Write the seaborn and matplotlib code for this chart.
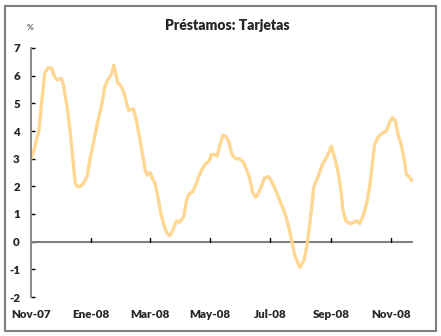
import matplotlib
matplotlib.use("Agg")
import matplotlib.pyplot as plt
import seaborn as sns
import pandas as pd
from matplotlib.patches import Rectangle

# ---- data ----
start_date = "2007-11-01"
days_since_start = [0, 3, 6, 8, 11, 14, 17, 21, 24, 27, 31, 33, 35, 37, 40, 43, 45, 47, 50, 53,
                    57, 60, 63, 67, 72, 75, 78, 81, 83, 84, 86, 88, 92, 95, 98, 99, 104, 107, 110, 113,
                    116, 118, 121, 123, 126, 129, 132, 135, 138, 141, 144, 146, 148, 151, 155, 158, 160, 164, 168, 172,
                    175, 178, 181, 183, 186, 189, 192, 195, 198, 201, 204, 208, 212, 216, 219, 222, 225, 228, 231, 234,
                    237, 241, 244, 248, 252, 256, 259, 262, 265, 268, 272, 273, 277, 280, 283, 285, 287, 291, 296, 301,
                    305, 309, 312, 315, 317, 320, 324, 328, 331, 334, 338, 341, 344, 347, 349, 352, 356, 361, 364, 367,
                    370, 373, 376, 380, 381, 384, 387]
values = [3.0, 3.3, 3.75, 4.0, 5.1, 6.1, 6.28, 6.27, 5.95, 5.85, 5.9, 5.65, 5.2, 4.8, 3.9, 2.8, 2.1, 2.0, 2.0, 2.1,
          2.35, 3.0, 3.5, 4.2, 5.0, 5.6, 5.85, 6.0, 6.2, 6.38, 6.1, 5.75, 5.6, 5.3, 4.9, 4.75, 4.8, 4.4, 3.8, 3.2,
          2.6, 2.4, 2.5, 2.3, 2.1, 1.6, 1.0, 0.6, 0.3, 0.22, 0.4, 0.6, 0.75, 0.7, 0.9, 1.5, 1.7, 1.8, 2.1, 2.5,
          2.7, 2.85, 2.9, 3.15, 3.15, 3.1, 3.5, 3.85, 3.8, 3.6, 3.15, 3.0, 3.0, 2.85, 2.6, 2.3, 1.8, 1.6, 1.75, 2.0,
          2.3, 2.35, 2.2, 1.9, 1.55, 1.2, 0.9, 0.5, 0.0, -0.5, -0.85, -0.93, -0.7, -0.2, 0.6, 1.2, 1.95, 2.3, 2.8, 3.1,
          3.45, 2.95, 2.5, 1.8, 1.1, 0.75, 0.65, 0.7, 0.75, 0.65, 1.0, 1.4, 2.0, 2.9, 3.5, 3.75, 3.9, 4.0, 4.3, 4.48,
          4.37, 3.85, 3.5, 2.8, 2.45, 2.35, 2.2]
tick_dates = ["2007-11-01", "2008-01-01", "2008-03-01", "2008-05-01", "2008-07-01", "2008-09-01", "2008-11-01"]
tick_labels = ["Nov-07", "Ene-08", "Mar-08", "May-08", "Jul-08", "Sep-08", "Nov-08"]
y_ticks = [7, 6, 5, 4, 3, 2, 1, 0, -1, -2]
title = "Préstamos: Tarjetas"

df = pd.DataFrame({
    "fecha": pd.Timestamp(start_date) + pd.to_timedelta(days_since_start, unit="D"),
    "valor": values,
})

sns.set_style("white")
plt.rcParams["font.family"] = ["Lato", "DejaVu Sans"]

fig = plt.figure(figsize=(4.41, 3.36), dpi=100)
fig.patches.append(Rectangle((5 / 441, 5 / 336), 431 / 441, 325 / 336, transform=fig.transFigure,
                             fill=False, edgecolor="#7f7f7f", linewidth=1.5))
ax = fig.add_axes([31 / 441, 39 / 336, 382 / 441, 249 / 336])

sns.lineplot(data=df, x="fecha", y="valor", ax=ax, color="#FFD48C", linewidth=2.4, alpha=0.95)

x0 = pd.Timestamp(start_date)
x1 = df["fecha"].iloc[-1] + pd.Timedelta(days=1)
ax.set_xlim(x0, x1)
ax.set_ylim(-2, 7)

for s in ["top", "right", "bottom"]:
    ax.spines[s].set_visible(False)
ax.spines["left"].set_color("#808080")
ax.spines["left"].set_linewidth(1.3)

# zero line acting as x axis
ax.axhline(0, color="#808080", linewidth=1.5, zorder=1)
tdates = pd.to_datetime(tick_dates)
for td in tdates[1:]:
    ax.plot([td, td], [0, 0.13], color="black", linewidth=1.0, zorder=2)

ax.set_xticks(tdates)
ax.set_xticklabels(tick_labels, fontsize=8.3, fontweight="heavy")
ax.tick_params(axis="x", length=0, pad=9)
for lbl in ax.get_xticklabels():
    lbl.set_horizontalalignment("center")

ax.set_yticks(y_ticks)
ax.set_yticklabels([str(v) for v in y_ticks], fontsize=8.3, fontweight="heavy")
ax.tick_params(axis="y", direction="in", length=3, width=1, color="black", pad=8, left=True)

ax.set_xlabel("")
ax.set_ylabel("")
ax.grid(False)

fig.text(227 / 441, 1 - 25 / 336, title, ha="center", va="center", fontsize=10, fontweight="heavy")
fig.text(30 / 441, 1 - 28 / 336, "%", ha="center", va="center", fontsize=6)

fig.savefig("out.png", dpi=100)
